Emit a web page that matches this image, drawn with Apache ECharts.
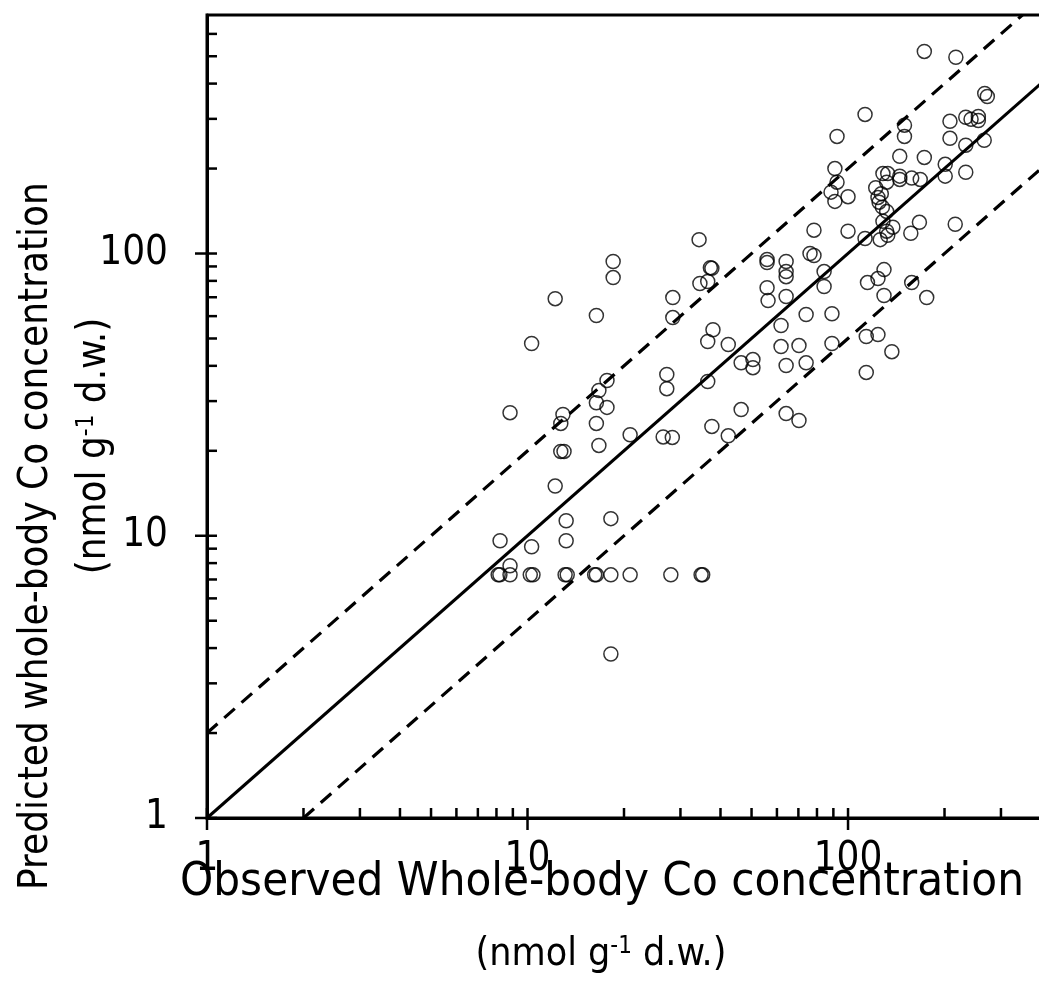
<!DOCTYPE html>
<html lang="en">
<head>
<meta charset="utf-8">
<title>Observed vs predicted whole-body Co</title>
<script src="https://cdn.jsdelivr.net/npm/echarts@6/dist/echarts.min.js"></script>
<style>
  html, body { margin: 0; padding: 0; background: #fff; }
  #chart { width: 1039px; height: 991px; }
</style>
</head>
<body>
<div id="chart"></div>
<script type="text/javascript">
// observed vs predicted whole-body Co (nmol g-1 d.w.)
var observed = [
  173, 217, 267, 272, 113, 208, 233, 242, 255, 255,
  92.4, 150, 150, 208, 233, 266, 145, 173, 201, 201,
  233, 91.0, 92.4, 88.5, 91.0, 100, 128.5, 133, 145, 145,
  158, 168, 132, 122, 127, 124, 125, 128, 132, 128.5,
  138, 132, 133, 126, 113, 167, 157, 216, 78.3, 100,
  76.1, 78.3, 64.1, 64.1, 64.1, 84.2, 84.2, 64.1, 129.5, 124,
  115, 158, 129.5, 176, 74.0, 89.1, 61.8, 114, 124, 89.1,
  70.3, 61.8, 137, 64.1, 74.0, 114, 34.3, 37.2, 37.6, 34.5,
  36.5, 55.9, 55.9, 55.9, 56.3, 37.9, 36.5, 42.3, 46.4, 50.5,
  50.5, 27.2, 27.2, 36.5, 46.4, 64.1, 70.3, 37.6, 42.3, 18.5,
  18.5, 12.2, 16.4, 10.3, 28.4, 28.4, 17.7, 16.7, 16.4, 17.7,
  8.82, 12.9, 12.7, 16.4, 20.9, 26.5, 28.3, 16.7, 12.7, 13.0,
  12.2, 8.21, 10.3, 13.2, 13.2, 18.2, 8.82,
  8.1, 8.2, 8.82, 10.2, 10.4, 13.1, 13.3, 16.2, 16.4, 18.2,
  20.9, 28.0, 34.8, 35.2, 18.2
];
var predicted = [
  520, 496, 369, 360, 311, 294, 304, 299, 306, 296,
  260, 285, 260, 256, 242, 252, 221, 219, 207, 188,
  194, 200, 179, 165, 153, 159, 192, 192, 188, 183,
  185, 183, 179, 171, 163, 158, 152, 146, 141, 130,
  124, 120, 116, 112, 113, 129, 118, 127, 121, 120,
  100, 98.4, 93.7, 86.3, 82.8, 86.3, 76.4, 70.4, 87.7, 81.5,
  78.9, 78.9, 71.0, 69.8, 60.8, 61.2, 55.6, 50.8, 51.6, 48.0,
  47.2, 46.8, 44.9, 40.1, 41.0, 37.9, 112, 89.1, 88.6, 78.3,
  79.6, 95.2, 92.9, 75.7, 68.1, 53.7, 48.8, 47.6, 41.0, 42.1,
  39.4, 37.3, 33.2, 35.2, 28.0, 27.1, 25.6, 24.4, 22.6, 93.7,
  82.2, 69.2, 60.3, 48.0, 69.8, 59.3, 35.5, 32.7, 29.6, 28.5,
  27.3, 26.9, 25.0, 25.0, 22.8, 22.4, 22.3, 20.9, 19.9, 19.9,
  15.0, 9.60, 9.14, 11.3, 9.60, 11.5, 7.83,
  7.27, 7.27, 7.27, 7.27, 7.27, 7.27, 7.27, 7.27, 7.27, 7.27,
  7.27, 7.27, 7.27, 7.27, 3.81
];

// 1:1 line and factor-of-two lines
var lineOneToOne = [[1, 1], [400, 400]];
var lineUpper = [[1, 2], [350, 700]];
var lineLower = [[2, 1], [400, 200]];

// axis ticks
var majorTicks = [1, 10, 100];
var minorTicksX = [2, 3, 4, 5, 6, 7, 8, 9, 20, 30, 40, 50, 60, 70, 80, 90, 200, 300];
var minorTicksY = [2, 3, 4, 5, 6, 7, 8, 9, 20, 30, 40, 50, 60, 70, 80, 90, 200, 300, 400, 500, 600];

var points = observed.map(function (x, i) { return [x, predicted[i]]; });

// [x, y, axis (0 = x, 1 = y), major]
var tickData = [];
majorTicks.forEach(function (v) {
  tickData.push([v, 1, 0, 1]);
  tickData.push([1, v, 1, 1]);
});
minorTicksX.forEach(function (v) { tickData.push([v, 1, 0, 0]); });
minorTicksY.forEach(function (v) { tickData.push([1, v, 1, 0]); });

var FONT = '"DejaVu Sans Condensed", "DejaVu Sans", sans-serif';

function isPow10(v) {
  var l = Math.log10(v);
  return Math.abs(l - Math.round(l)) < 1e-6;
}

var myChart = echarts.init(document.getElementById('chart'));

var option = {
  animation: false,
  backgroundColor: '#fff',
  grid: {
    left: 207, top: 15, width: 834, height: 803,
    outerBoundsMode: 'none', containLabel: false,
    show: true, borderColor: '#000', borderWidth: 3, backgroundColor: 'transparent'
  },
  xAxis: {
    type: 'log', logBase: 10, min: 1, max: 400,
    axisLine: { lineStyle: { color: '#000', width: 3 } },
    axisTick: { show: false },
    splitLine: { show: false },
    axisLabel: {
      color: '#000', fontSize: 40, fontFamily: FONT, margin: 22,
      formatter: function (v) { return isPow10(v) ? String(Math.round(v)) : ''; }
    }
  },
  yAxis: {
    type: 'log', logBase: 10, min: 1, max: 700,
    axisLine: { lineStyle: { color: '#000', width: 3 } },
    axisTick: { show: false },
    splitLine: { show: false },
    axisLabel: {
      color: '#000', fontSize: 40, fontFamily: FONT, margin: 39,
      formatter: function (v) { return isPow10(v) ? String(Math.round(v)) : ''; }
    }
  },
  series: [
    {
      type: 'line', data: lineUpper, symbol: 'none', silent: true,
      lineStyle: { color: '#000', width: 3.2, type: [14, 9] }
    },
    {
      type: 'line', data: lineOneToOne, symbol: 'none', silent: true,
      lineStyle: { color: '#000', width: 3 }
    },
    {
      type: 'line', data: lineLower, symbol: 'none', silent: true,
      lineStyle: { color: '#000', width: 3.2, type: [14, 9] }
    },
    {
      type: 'scatter', data: points, symbol: 'circle', symbolSize: 14,
      itemStyle: { color: 'rgba(0,0,0,0)', borderColor: '#000', borderWidth: 1.5 }
    },
    {
      // log-axis ticks: majors cross the axis, minors point inward
      type: 'custom', data: tickData, silent: true, clip: false, z: 5,
      encode: { x: 0, y: 1 },
      renderItem: function (params, api) {
        var p = api.coord([api.value(0), api.value(1)]);
        var out = api.value(3) === 1 ? 12 : 0;
        var inn = 10;
        var shape = api.value(2) === 1
          ? { x1: p[0] - out, y1: p[1], x2: p[0] + inn, y2: p[1] }
          : { x1: p[0], y1: p[1] + out, x2: p[0], y2: p[1] - inn };
        return { type: 'line', shape: shape, style: { stroke: '#000', lineWidth: 2.5 } };
      }
    }
  ],
  graphic: [
    {
      type: 'text', x: 602, y: 883,
      style: {
        text: 'Observed Whole-body Co concentration', fill: '#000',
        fontSize: 47, fontFamily: FONT,
        align: 'center', verticalAlign: 'middle', textAlign: 'center', textVerticalAlign: 'middle'
      }
    },
    {
      type: 'text', x: 601, y: 955,
      style: {
        text: '(nmol g{sup|-1} d.w.)', fill: '#000',
        fontSize: 39, fontFamily: FONT,
        align: 'center', verticalAlign: 'middle', textAlign: 'center', textVerticalAlign: 'middle',
        rich: { sup: { fontSize: 24, fontFamily: FONT, fill: '#000', padding: [0, 0, 17, 0] } }
      }
    },
    {
      type: 'text', x: 37, y: 536, rotation: Math.PI / 2,
      style: {
        text: 'Predicted whole-body Co concentration', fill: '#000',
        fontSize: 40, fontFamily: FONT,
        align: 'center', verticalAlign: 'middle', textAlign: 'center', textVerticalAlign: 'middle'
      }
    },
    {
      type: 'text', x: 95, y: 446, rotation: Math.PI / 2,
      style: {
        text: '(nmol g{sup|-1} d.w.)', fill: '#000',
        fontSize: 40, fontFamily: FONT,
        align: 'center', verticalAlign: 'middle', textAlign: 'center', textVerticalAlign: 'middle',
        rich: { sup: { fontSize: 24, fontFamily: FONT, fill: '#000', padding: [0, 0, 17, 0] } }
      }
    }
  ]
};

myChart.setOption(option);
</script>
</body>
</html>
